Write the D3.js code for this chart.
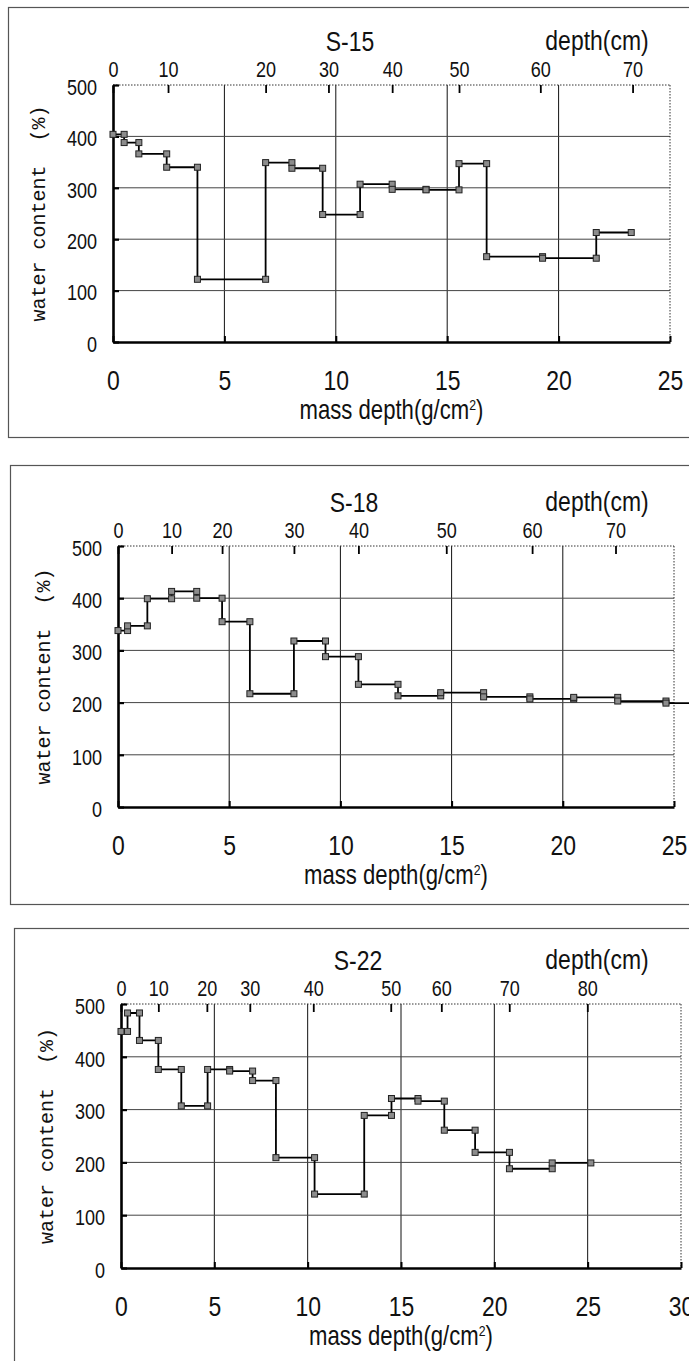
<!DOCTYPE html>
<html>
<head>
<meta charset="utf-8">
<script src="https://cdn.jsdelivr.net/npm/d3@7"></script>
<style>
  body { margin: 0; background: #fff; }
  svg { display: block; }
  text { font-family: "Liberation Sans", Arial, sans-serif; fill: #111; }
  .ytitle { font-family: "Liberation Mono", monospace; white-space: pre; }
</style>
</head>
<body>
<div id="chart"></div>
<script>
// S-15 : mass depth boundaries of each sample (g/cm2) and water content (%)
var s15Bounds = [0, 0.5, 1.16, 2.41, 3.79, 6.85, 8.03, 9.41, 11.09, 12.53, 14.05, 15.53, 16.77, 19.28, 21.69, 23.26];
var s15Water = [404, 388, 366, 340, 122, 349, 338, 248, 307, 297, 296, 347, 166, 163, 213];
var s15DepthTicks = [0, 10, 20, 30, 40, 50, 60, 70];
var s15DepthMass = [0, 2.47, 6.85, 9.67, 12.53, 15.53, 19.18, 23.32];

// S-18
var s18Bounds = [0, 0.43, 1.32, 2.41, 3.54, 4.68, 5.93, 7.91, 9.33, 10.81, 12.59, 14.51, 16.44, 18.52, 20.49, 22.47, 24.64, 26];
var s18Water = [338, 347, 399, 413, 400, 355, 217, 318, 288, 235, 213, 219, 211, 207, 210, 203, 199];
var s18DepthTicks = [0, 10, 20, 30, 40, 50, 60, 70];
var s18DepthMass = [0, 2.41, 4.68, 7.91, 10.81, 14.76, 18.62, 22.37];

// S-22
var s22Bounds = [0, 0.35, 0.99, 2.0, 3.23, 4.64, 5.82, 7.05, 8.3, 10.37, 13.03, 14.49, 15.91, 17.32, 18.97, 20.81, 23.1, 25.17];
var s22Water = [448, 483, 431, 376, 307, 376, 373, 355, 209, 140, 289, 321, 316, 261, 219, 188, 199];
var s22DepthTicks = [0, 10, 20, 30, 40, 50, 60, 70, 80];
var s22DepthMass = [0, 2.0, 4.6, 6.9, 10.3, 14.45, 17.16, 20.8, 24.98];

var waterTicks = [0, 100, 200, 300, 400, 500];

var svg = d3.select("#chart")
  .append("svg")
  .attr("width", 689)
  .attr("height", 1361);

var panels = [
  {name: "S-15", bounds: s15Bounds, water: s15Water, depthTicks: s15DepthTicks, depthMass: s15DepthMass,
   xMax: 25, frame: {x: 8.5, y: 7.5, h: 430}, left: 113, right: 670, top: 85, bottom: 342, titleX: 350},
  {name: "S-18", bounds: s18Bounds, water: s18Water, depthTicks: s18DepthTicks, depthMass: s18DepthMass,
   xMax: 25, frame: {x: 10.5, y: 465.5, h: 439}, left: 118, right: 674, top: 546, bottom: 807, titleX: 354},
  {name: "S-22", bounds: s22Bounds, water: s22Water, depthTicks: s22DepthTicks, depthMass: s22DepthMass,
   xMax: 30, frame: {x: 14.5, y: 928.5, h: 460}, left: 121, right: 681, top: 1004, bottom: 1268, titleX: 358}
];

panels.forEach(drawPanel);

function drawPanel(p) {
  var g = svg.append("g");

  // outer frame
  g.append("rect")
    .attr("x", p.frame.x)
    .attr("y", p.frame.y)
    .attr("width", 700)
    .attr("height", p.frame.h)
    .attr("fill", "none")
    .attr("stroke", "#555")
    .attr("stroke-width", 1.2);

  var x = d3.scaleLinear().domain([0, p.xMax]).range([p.left, p.right]);
  var y = d3.scaleLinear().domain([0, 500]).range([p.bottom, p.top]);

  // grid
  g.selectAll(".vgrid")
    .data(d3.range(5, p.xMax, 5))
    .enter()
    .append("line")
    .attr("x1", d => x(d)).attr("x2", d => x(d))
    .attr("y1", y(500)).attr("y2", y(0))
    .attr("stroke", "#111")
    .attr("stroke-width", 1);

  g.selectAll(".hgrid")
    .data([100, 200, 300, 400])
    .enter()
    .append("line")
    .attr("x1", x(0)).attr("x2", x(p.xMax))
    .attr("y1", d => y(d)).attr("y2", d => y(d))
    .attr("stroke", "#444")
    .attr("stroke-width", 1);

  // dotted top and right border
  g.append("line")
    .attr("x1", x(0)).attr("x2", x(p.xMax))
    .attr("y1", y(500)).attr("y2", y(500))
    .attr("stroke", "#333")
    .attr("stroke-dasharray", "1.5,1.5");
  g.append("line")
    .attr("x1", x(p.xMax)).attr("x2", x(p.xMax))
    .attr("y1", y(500)).attr("y2", y(0))
    .attr("stroke", "#333")
    .attr("stroke-dasharray", "1.5,1.5");

  // left axis
  var leftAxis = d3.axisLeft(y).tickValues(waterTicks).tickSize(-6).tickSizeOuter(0).tickPadding(16);
  var la = g.append("g")
    .attr("transform", `translate(${x(0)},0)`)
    .call(leftAxis);
  la.select(".domain").attr("stroke-width", 2.6).attr("stroke", "#000");
  la.selectAll(".tick line").attr("stroke-width", 2.2);
  la.selectAll(".tick text")
    .attr("font-size", 22)
    .attr("font-family", "Liberation Sans, Arial, sans-serif")
    .attr("x", -16 / 0.82)
    .attr("dy", "0.42em")
    .attr("transform", "scale(0.82,1)");

  // bottom axis
  var bottomAxis = d3.axisBottom(x).tickValues(d3.range(0, p.xMax + 1, 5)).tickSize(-6).tickSizeOuter(0).tickPadding(28);
  var ba = g.append("g")
    .attr("transform", `translate(0,${y(0)})`)
    .call(bottomAxis);
  ba.select(".domain").attr("stroke-width", 2.6).attr("stroke", "#000");
  ba.selectAll(".tick line").attr("stroke-width", 2);
  ba.selectAll(".tick text")
    .attr("font-size", 28)
    .attr("font-family", "Liberation Sans, Arial, sans-serif")
    .attr("transform", "scale(0.82,1)");

  // top depth axis (cm), placed at the mass depth of each depth
  var depthScale = d3.scaleLinear().domain(p.depthTicks).range(p.depthMass.map(x));
  var topAxis = d3.axisTop(depthScale).tickValues(p.depthTicks).tickSize(-8).tickSizeOuter(0).tickPadding(8);
  var ta = g.append("g")
    .attr("transform", `translate(0,${y(500)})`)
    .call(topAxis);
  ta.select(".domain").remove();
  ta.selectAll(".tick line").attr("stroke-width", 1.8);
  ta.selectAll(".tick text")
    .attr("font-size", 22)
    .attr("font-family", "Liberation Sans, Arial, sans-serif")
    .attr("transform", "scale(0.82,1)");

  // step profile
  var pts = [];
  p.water.forEach(function(w, i) {
    pts.push([p.bounds[i], w]);
    pts.push([p.bounds[i + 1], w]);
  });

  var line = d3.line()
    .x(d => x(d[0]))
    .y(d => y(d[1]));

  g.append("path")
    .datum(pts)
    .attr("d", line)
    .attr("fill", "none")
    .attr("stroke", "#000")
    .attr("stroke-width", 1.8);

  g.selectAll(".marker")
    .data(pts)
    .enter()
    .append("rect")
    .attr("x", d => x(d[0]) - 3)
    .attr("y", d => y(d[1]) - 3)
    .attr("width", 6)
    .attr("height", 6)
    .attr("fill", "#8c8c8c")
    .attr("stroke", "#222")
    .attr("stroke-width", 1);

  // texts
  g.append("text")
    .attr("transform", `translate(${p.titleX},${p.top - 34}) scale(0.82,1)`)
    .attr("text-anchor", "middle")
    .attr("font-size", 28)
    .text(p.name);

  g.append("text")
    .attr("transform", `translate(${597},${p.top - 35}) scale(0.85,1)`)
    .attr("text-anchor", "middle")
    .attr("font-size", 27)
    .text("depth(cm)");

  g.append("text")
    .attr("class", "ytitle")
    .attr("transform", `translate(${p.left - 68},${(p.top + p.bottom) / 2}) rotate(-90)`)
    .attr("text-anchor", "middle")
    .attr("font-size", 20)
    .text("water content  (%)");

  var mt = g.append("text")
    .attr("transform", `translate(${(p.left + p.right) / 2},${p.bottom + 77}) scale(0.82,1)`)
    .attr("text-anchor", "middle")
    .attr("font-size", 27);
  mt.append("tspan").text("mass depth(g/cm");
  mt.append("tspan").attr("font-size", 15).attr("dy", -9).text("2");
  mt.append("tspan").attr("dy", 9).text(")");
}
</script>
</body>
</html>
